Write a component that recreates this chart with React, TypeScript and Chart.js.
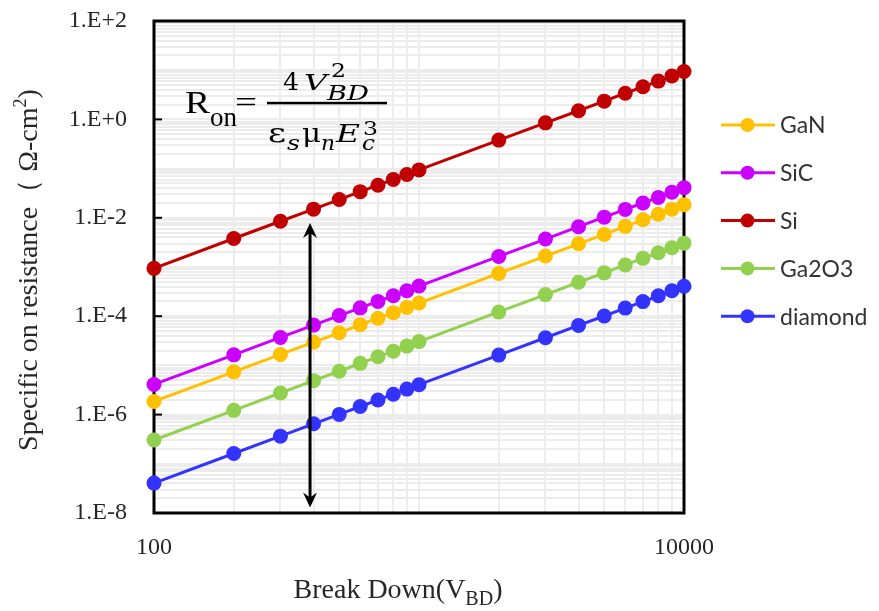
import React, { useEffect, useRef } from "react";
import { Chart, registerables } from "chart.js";

Chart.register(...registerables);

// ---------- data ----------
const breakdownVoltages = [100, 200, 300, 400, 500, 600, 700, 800, 900, 1000, 2000, 3000, 4000, 5000, 6000, 7000, 8000, 9000, 10000];

const seriesNames = ["GaN", "SiC", "Si", "Ga2O3", "diamond"];
const seriesColors = ["#FFC000", "#CC00FF", "#C00000", "#92D050", "#3333FF"];

const ganValues = [1.85e-6, 7.4e-6, 1.67e-5, 2.96e-5, 4.6e-5, 6.7e-5, 9.1e-5, 1.18e-4, 1.5e-4, 1.85e-4, 7.4e-4, 1.67e-3, 2.96e-3, 4.6e-3, 6.7e-3, 9.1e-3, 1.18e-2, 1.5e-2, 1.85e-2];
const sicValues = [4.1e-6, 1.64e-5, 3.7e-5, 6.6e-5, 1.03e-4, 1.48e-4, 2.0e-4, 2.6e-4, 3.3e-4, 4.1e-4, 1.64e-3, 3.7e-3, 6.6e-3, 1.03e-2, 1.48e-2, 2.0e-2, 2.6e-2, 3.3e-2, 4.1e-2];
const siValues = [9.4e-4, 3.8e-3, 8.5e-3, 1.5e-2, 2.35e-2, 3.4e-2, 4.6e-2, 6.0e-2, 7.6e-2, 9.4e-2, 0.38, 0.85, 1.5, 2.35, 3.4, 4.6, 6.0, 7.6, 9.4];
const ga2o3Values = [3.05e-7, 1.22e-6, 2.75e-6, 4.9e-6, 7.6e-6, 1.1e-5, 1.5e-5, 1.95e-5, 2.47e-5, 3.05e-5, 1.22e-4, 2.75e-4, 4.9e-4, 7.6e-4, 1.1e-3, 1.5e-3, 1.95e-3, 2.47e-3, 3.05e-3];
const diamondValues = [4.05e-8, 1.62e-7, 3.65e-7, 6.5e-7, 1.01e-6, 1.46e-6, 1.98e-6, 2.6e-6, 3.3e-6, 4.05e-6, 1.62e-5, 3.65e-5, 6.5e-5, 1.01e-4, 1.46e-4, 1.98e-4, 2.6e-4, 3.3e-4, 4.05e-4];

const yLabelValues = [1e2, 1e0, 1e-2, 1e-4, 1e-6, 1e-8];
const yTickLabels = ["1.E+2", "1.E+0", "1.E-2", "1.E-4", "1.E-6", "1.E-8"];
const xLabelValues = [100, 10000];
const xTickLabels = ["100", "10000"];

const xTitle = "Break Down(V";
const xTitleSub = "BD";
const yTitle = "Specific on resistance（ Ω-cm";
const yTitleSup = "2";

// arrow annotation (data coords)
const arrowX = 388;
const arrowTop = 7.8e-3;
const arrowBottom = 1.3e-8;

// ---------- helpers ----------
const X_MIN = 100, X_MAX = 10000, Y_MIN = 1e-8, Y_MAX = 1e2;

function logGrid(minExp: number, maxExp: number): number[] {
  const out: number[] = [];
  for (let k = minExp; k < maxExp; k++) {
    for (let m = 1; m <= 9; m++) out.push(m * Math.pow(10, k));
  }
  out.push(Math.pow(10, maxExp));
  return out;
}

function findLabel(v: number, values: number[], labels: string[]): string {
  for (let i = 0; i < values.length; i++) {
    if (Math.abs(Math.log10(v) - Math.log10(values[i])) < 1e-6) return labels[i];
  }
  return "";
}

const SERIF = '"Liberation Serif", "Times New Roman", serif';
const MATH = '"DejaVu Serif", "Liberation Serif", serif';
const SANS = 'Lato, "Liberation Sans", sans-serif';

const decorPlugin = {
  id: "decor",
  beforeDatasetsDraw(chart: any) {
    const { ctx, chartArea } = chart;
    const yScale = chart.scales.y;
    ctx.save();
    ctx.strokeStyle = "#000";
    ctx.lineWidth = 2;
    yLabelValues.forEach((v) => {
      const py = yScale.getPixelForValue(v);
      ctx.beginPath();
      ctx.moveTo(chartArea.left, py);
      ctx.lineTo(chartArea.left + 8, py);
      ctx.stroke();
    });
    ctx.lineWidth = 3;
    ctx.strokeRect(chartArea.left, chartArea.top, chartArea.right - chartArea.left, chartArea.bottom - chartArea.top);
    ctx.restore();
  },
  afterDatasetsDraw(chart: any) {
    const { ctx } = chart;
    const xs = chart.scales.x;
    const ys = chart.scales.y;
    const ax = xs.getPixelForValue(arrowX);
    const top = ys.getPixelForValue(arrowTop);
    const bot = ys.getPixelForValue(arrowBottom);
    ctx.save();
    ctx.strokeStyle = "#000";
    ctx.fillStyle = "#000";
    ctx.lineWidth = 3;
    ctx.beginPath();
    ctx.moveTo(ax, top + 8);
    ctx.lineTo(ax, bot - 8);
    ctx.stroke();
    const head = (tipY: number, dir: number) => {
      ctx.beginPath();
      ctx.moveTo(ax, tipY);
      ctx.lineTo(ax - 7, tipY + dir * 15);
      ctx.lineTo(ax, tipY + dir * 10);
      ctx.lineTo(ax + 7, tipY + dir * 15);
      ctx.closePath();
      ctx.fill();
    };
    head(top, 1);
    head(bot, -1);
    ctx.restore();
  },
  afterDraw(chart: any) {
    const { ctx } = chart;
    ctx.save();
    ctx.textBaseline = "alphabetic";
    ctx.textAlign = "left";

    // ---- equation ----
    ctx.fillStyle = "#000";
    const t = (s: string, x: number, y: number, font: string, w?: number) => {
      ctx.font = font;
      if (!w) {
        ctx.fillText(s, x, y);
        return;
      }
      const m = ctx.measureText(s).width;
      ctx.save();
      ctx.translate(x, y);
      ctx.scale(w / m, 1);
      ctx.fillText(s, 0, 0);
      ctx.restore();
    };
    t("R", 185, 113, `32px ${SERIF}`, 25);
    t("on", 210, 126, `28px ${SERIF}`, 27);
    t("=", 235, 112, `30px ${SERIF}`, 22);
    ctx.fillRect(267, 101.8, 120, 2.5);
    t("4", 283, 90, `25px ${MATH}`, 16);
    t("V", 304, 90, `italic 23px ${MATH}`, 23);
    t("2", 331, 77, `18px ${MATH}`, 15);
    t("BD", 327, 100, `italic 20px ${MATH}`, 42);
    t("ε", 268, 142, `26px ${MATH}`, 18);
    t("s", 287, 150, `italic 20px ${MATH}`, 13);
    t("μ", 302, 142, `26px ${MATH}`, 19);
    t("n", 321, 150, `italic 20px ${MATH}`, 14);
    t("E", 336, 142, `italic 24px ${MATH}`, 24);
    t("3", 363, 135, `18px ${MATH}`, 15);
    t("c", 362, 150, `italic 20px ${MATH}`, 13);

    // ---- x title ----
    ctx.fillStyle = "#262626";
    ctx.font = `28px ${SERIF}`;
    const w1 = ctx.measureText(xTitle).width;
    ctx.font = `20px ${SERIF}`;
    const w2 = ctx.measureText(xTitleSub).width;
    ctx.font = `28px ${SERIF}`;
    const w3 = ctx.measureText(")").width;
    let sx = 398 - (w1 + w2 + w3) / 2;
    ctx.font = `28px ${SERIF}`;
    ctx.fillText(xTitle, sx, 598);
    sx += w1;
    ctx.font = `20px ${SERIF}`;
    ctx.fillText(xTitleSub, sx, 605);
    sx += w2;
    ctx.font = `28px ${SERIF}`;
    ctx.fillText(")", sx, 598);

    // ---- y title ----
    ctx.font = `28px ${SERIF}`;
    const yw1 = ctx.measureText(yTitle).width;
    ctx.font = `18px ${SERIF}`;
    const yw2 = ctx.measureText(yTitleSup).width;
    ctx.font = `28px ${SERIF}`;
    const yw3 = ctx.measureText(")").width;
    const total = yw1 + yw2 + yw3;
    ctx.translate(37, 270 + total / 2);
    ctx.rotate(-Math.PI / 2);
    ctx.font = `28px ${SERIF}`;
    ctx.fillText(yTitle, 0, 0);
    ctx.font = `18px ${SERIF}`;
    ctx.fillText(yTitleSup, yw1, -11);
    ctx.font = `28px ${SERIF}`;
    ctx.fillText(")", yw1 + yw2, 0);
    ctx.restore();

    // ---- legend ----
    ctx.save();
    const datasets = chart.data.datasets;
    ctx.font = `23px ${SANS}`;
    ctx.textBaseline = "middle";
    ctx.textAlign = "left";
    datasets.forEach((ds: any, i: number) => {
      const ly = 125 + i * 47.8;
      ctx.strokeStyle = ds.borderColor;
      ctx.lineWidth = 3;
      ctx.beginPath();
      ctx.moveTo(721, ly);
      ctx.lineTo(775, ly);
      ctx.stroke();
      ctx.fillStyle = ds.borderColor;
      ctx.beginPath();
      ctx.arc(747.5, ly, 7, 0, Math.PI * 2);
      ctx.fill();
      ctx.fillStyle = "#333333";
      ctx.fillText(ds.label, 780, ly + 1);
    });
    ctx.restore();
  },
};

export default function App() {
  const canvasRef = useRef<HTMLCanvasElement | null>(null);

  useEffect(() => {
    if (!canvasRef.current) return;
    const seriesValues = [ganValues, sicValues, siValues, ga2o3Values, diamondValues];
    const datasets = seriesNames.map((name, i) => ({
      label: name,
      data: breakdownVoltages.map((v, j) => ({ x: v, y: seriesValues[i][j] })),
      borderColor: seriesColors[i],
      backgroundColor: seriesColors[i],
      pointBackgroundColor: seriesColors[i],
      pointBorderWidth: 0,
      pointRadius: 7.5,
      borderWidth: 3,
      tension: 0,
      clip: false as any,
    }));

    const xGrid = logGrid(2, 4);
    const yGrid = logGrid(-8, 2);

    const chart = new Chart(canvasRef.current, {
      type: "line",
      data: { datasets },
      plugins: [decorPlugin],
      options: {
        animation: false,
        responsive: false,
        maintainAspectRatio: false,
        layout: { padding: { top: 21, right: 195, bottom: 0, left: 0 } },
        plugins: {
          legend: { display: false },
          tooltip: { enabled: false },
          title: { display: false },
        },
        scales: {
          x: {
            type: "logarithmic",
            min: X_MIN,
            max: X_MAX,
            position: "bottom",
            afterBuildTicks: (s: any) => {
              s.ticks = xGrid.map((v) => ({ value: v }));
            },
            afterFit: (s: any) => {
              s.height = 98;
              s.paddingLeft = 0;
              s.paddingRight = 0;
              s.paddingTop = 0;
              s.paddingBottom = 0;
            },
            grid: { color: "#ECECEC", lineWidth: 2, drawTicks: false },
            border: { display: false },
            ticks: {
              autoSkip: false,
              maxRotation: 0,
              minRotation: 0,
              padding: 20,
              color: "#262626",
              font: { family: SERIF, size: 24 },
              callback: (v: any) => findLabel(Number(v), xLabelValues, xTickLabels),
            },
          },
          y: {
            type: "logarithmic",
            min: Y_MIN,
            max: Y_MAX,
            position: "left",
            afterBuildTicks: (s: any) => {
              s.ticks = yGrid.map((v) => ({ value: v }));
            },
            afterFit: (s: any) => {
              s.width = 154;
              s.paddingLeft = 0;
              s.paddingRight = 0;
              s.paddingTop = 0;
              s.paddingBottom = 0;
            },
            grid: { color: "#ECECEC", lineWidth: 2, drawTicks: false },
            border: { display: false },
            ticks: {
              autoSkip: false,
              padding: 27,
              color: "#262626",
              font: { family: SERIF, size: 24 },
              callback: (v: any) => findLabel(Number(v), yLabelValues, yTickLabels),
            },
          },
        },
      } as any,
    });
    return () => chart.destroy();
  }, []);

  return (
    <div style={{ position: "fixed", left: 0, top: 0, width: 879, height: 611, background: "#fff" }}>
      <canvas ref={canvasRef} width={879} height={611} style={{ width: 879, height: 611, display: "block" }} />
    </div>
  );
}
